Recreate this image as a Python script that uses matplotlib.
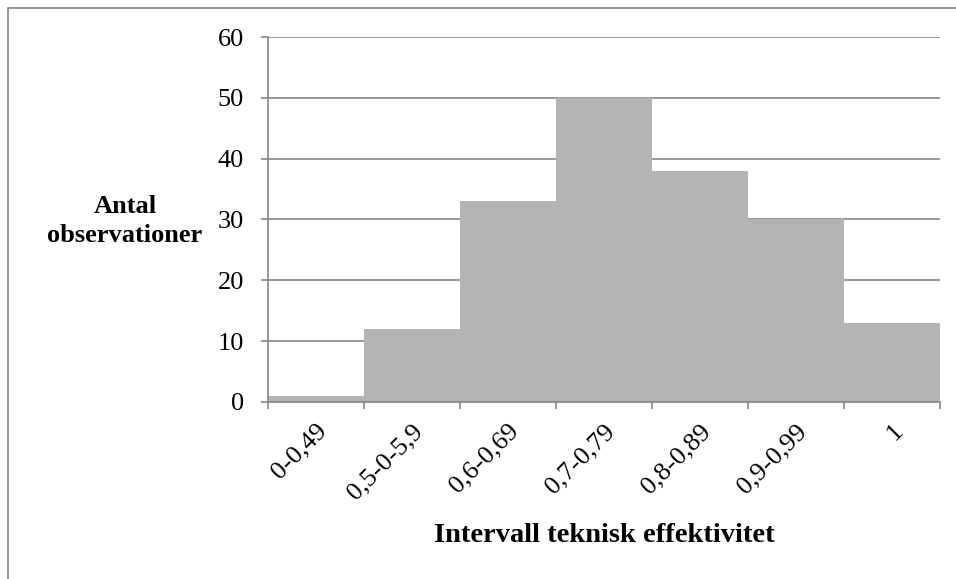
import matplotlib.pyplot as plt
from matplotlib.patches import Rectangle

plt.rcParams['font.family'] = ['Liberation Serif', 'DejaVu Serif']

# Datos del histograma
intervall = ['0-0,49', '0,5-0-5,9', '0,6-0,69', '0,7-0,79', '0,8-0,89', '0,9-0,99', '1']
antal = [1, 12, 33, 50, 38, 30, 13]
y_ticks = [0, 10, 20, 30, 40, 50, 60]

fig = plt.figure(figsize=(9.56, 5.79), dpi=100)
ax = fig.add_axes([0.280, 0.306, 0.703, 0.630])

pos = list(range(len(intervall)))
ax.bar(pos, antal, width=1.0, color='#b3b3b3', zorder=2)

ax.set_xlim(-0.5, len(intervall) - 0.5)
ax.set_ylim(0, 60)
ax.set_yticks(y_ticks)
ax.set_yticklabels([str(v) for v in y_ticks], fontsize=19)
ax.yaxis.grid(True, color='#868686', linewidth=1.2, zorder=1)

# Ticks entre categorias
ax.set_xticks([p - 0.5 for p in pos] + [len(intervall) - 0.5])
ax.set_xticklabels([])
ax.set_xticks(pos, minor=True)
ax.set_xticklabels(intervall, minor=True, rotation=45, ha='right', va='top',
                   rotation_mode='anchor', fontsize=19)
ax.tick_params(axis='x', which='minor', length=0, pad=13)
ax.tick_params(axis='x', which='major', length=5, color='#868686', width=1.2)
ax.tick_params(axis='y', length=5, color='#868686', width=1.2, pad=12)

for s in ['top', 'right']:
    ax.spines[s].set_visible(False)
for s in ['left', 'bottom']:
    ax.spines[s].set_color('#868686')
    ax.spines[s].set_linewidth(1.2)

fig.text(125 / 956, 1 - 221 / 579, 'Antal\nobservationer', ha='center', va='center',
         fontsize=19, fontweight='bold', linespacing=1.3)
fig.text(604 / 956, 1 - 536 / 579, 'Intervall teknisk effektivitet', ha='center',
         va='center', fontsize=20.5, fontweight='bold')

# Borde de la figura (solo se ve arriba y a la izquierda)
fig.patches.append(Rectangle((8 / 956, -0.1), 1.2, 1 - 8 / 579 + 0.1,
                             transform=fig.transFigure, fill=False,
                             edgecolor='#868686', linewidth=1.2))

fig.savefig('out.png', dpi=100)
